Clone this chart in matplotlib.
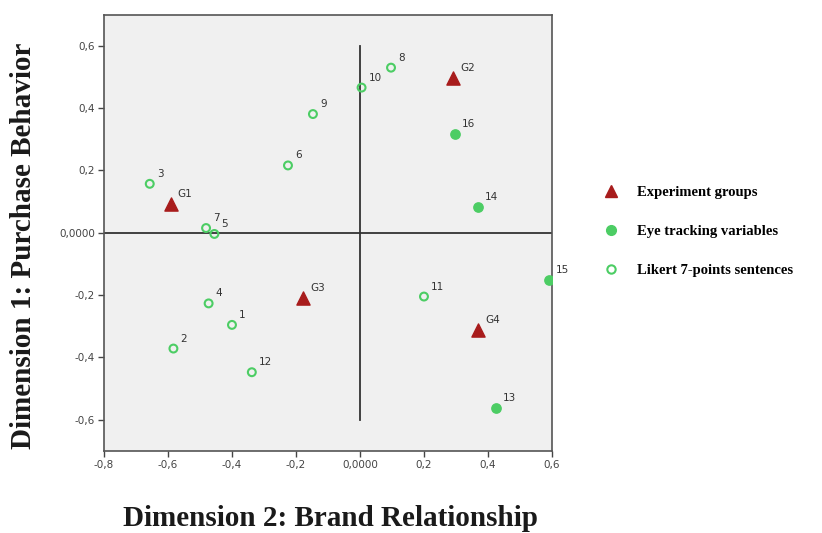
import matplotlib.pyplot as plt
from matplotlib.lines import Line2D
from matplotlib.ticker import FuncFormatter

# experiment groups
grp_labels = ['G1', 'G2', 'G3', 'G4']
grp_x = [-0.592, 0.292, -0.178, 0.370]
grp_y = [0.092, 0.496, -0.211, -0.311]

# eye tracking variables
eye_labels = ['13', '14', '15', '16']
eye_x = [0.426, 0.369, 0.591, 0.297]
eye_y = [-0.563, 0.084, -0.152, 0.316]

# likert sentences
lik_labels = ['1', '2', '3', '4', '5', '6', '7', '8', '9', '10', '11', '12']
lik_x = [-0.400, -0.583, -0.657, -0.473, -0.455, -0.225, -0.481, 0.097, -0.147, 0.005, 0.200, -0.338]
lik_y = [-0.296, -0.372, 0.157, -0.227, -0.004, 0.216, 0.015, 0.530, 0.381, 0.466, -0.205, -0.448]

red = '#a81c1c'
green = '#4ccd64'

fig = plt.figure(figsize=(8.22, 5.33), dpi=100)
ax = fig.add_axes([0.1265, 0.1544, 0.545, 0.818])
ax.set_facecolor('#f0f0f0')

ax.axhline(0, color='#333333', lw=1.3, zorder=1)
ax.plot([0, 0], [-0.6, 0.6], color='#333333', lw=1.3, zorder=1)

ax.scatter(grp_x, grp_y, marker='^', s=90, color=red, zorder=3)
ax.scatter(eye_x, eye_y, marker='o', s=45, color=green, zorder=3)
ax.scatter(lik_x, lik_y, marker='o', s=32, facecolors='none', edgecolors=green, linewidths=1.5, zorder=3)

for lab, x, y in zip(grp_labels + eye_labels + lik_labels, grp_x + eye_x + lik_x, grp_y + eye_y + lik_y):
    ax.annotate(lab, (x, y), xytext=(5, 5), textcoords='offset points', fontsize=7.5, color='#333333')

ax.set_xlim(-0.8, 0.6)
ax.set_ylim(-0.7, 0.7)
ax.set_xticks([-0.8, -0.6, -0.4, -0.2, 0.0, 0.2, 0.4, 0.6])
ax.set_yticks([-0.6, -0.4, -0.2, 0.0, 0.2, 0.4, 0.6])

def fmt(v, pos):
    if abs(v) < 1e-9:
        return '0,0000'
    return ('%.1f' % v).replace('.', ',')

ax.xaxis.set_major_formatter(FuncFormatter(fmt))
ax.yaxis.set_major_formatter(FuncFormatter(fmt))
ax.tick_params(labelsize=7.5, colors='#444444', length=4, width=1, pad=2.5)
for s in ax.spines.values():
    s.set_color('#555555')
    s.set_linewidth(1.2)

serif = dict(family='Liberation Serif', weight='bold', size=21, color='#1a1a1a')
fig.text(0.028, 0.538, 'Dimension 1: Purchase Behavior', rotation=90, ha='center', va='center', **serif)
fig.text(0.402, 0.028, 'Dimension 2: Brand Relationship', ha='center', va='center', **serif)

handles = [
    Line2D([], [], marker='^', ls='', color=red, markersize=9),
    Line2D([], [], marker='o', ls='', color=green, markersize=7),
    Line2D([], [], marker='o', ls='', markerfacecolor='none', markeredgecolor=green, markeredgewidth=1.5, markersize=6),
]
fig.legend(handles, ['Experiment groups', 'Eye tracking variables', 'Likert 7-points sentences'],
           loc='center left', bbox_to_anchor=(0.71, 0.566), frameon=False,
           prop=dict(family='Liberation Serif', weight='bold', size=10.5),
           labelspacing=1.75, handletextpad=0.75)

fig.savefig('out.png', dpi=100)
